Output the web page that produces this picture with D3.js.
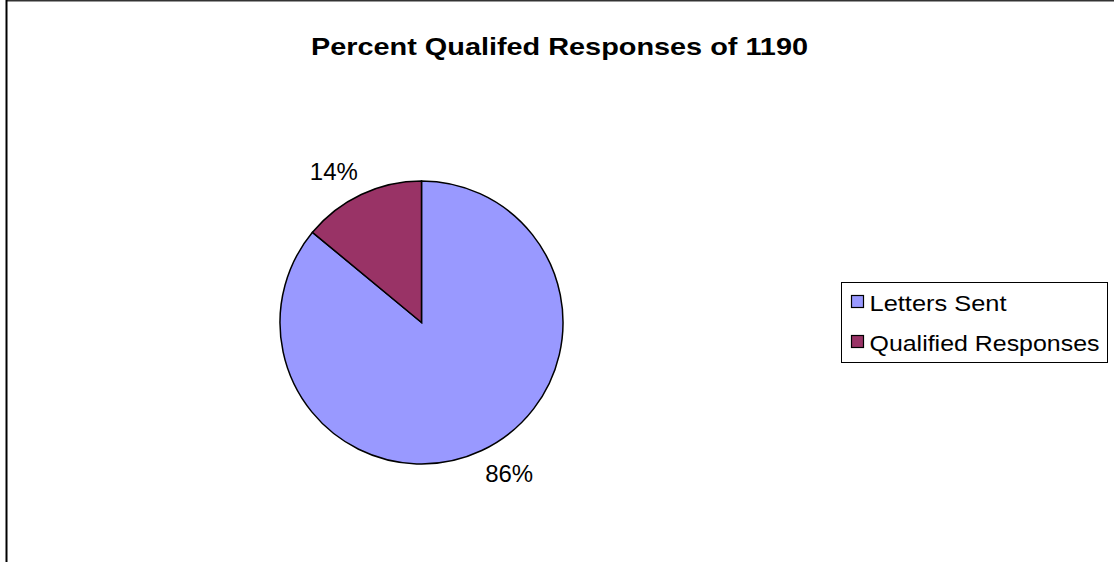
<!DOCTYPE html>
<html><head><meta charset="utf-8">
<script src="https://cdn.jsdelivr.net/npm/d3@7"></script>
<style>body{margin:0;background:#fff}svg{display:block}</style>
</head><body>
<script>
const categories = ["Letters Sent", "Qualified Responses"];
const values = [86, 14];
const labels = ["86%", "14%"];
const colors = ["#9999FF", "#993366"];
const title = "Percent Qualifed Responses of 1190";

const W = 1114, H = 562;
const FONT = "Liberation Sans, Arial, sans-serif";
const svg = d3.select("body").append("svg").attr("width", W).attr("height", H);
svg.append("rect").attr("width", W).attr("height", H).attr("fill", "#fff");
// chart border (right/bottom clipped)
svg.append("line").attr("x1", 6).attr("x2", W).attr("y1", 0.5).attr("y2", 0.5).attr("stroke", "#333").attr("stroke-width", 2);
svg.append("line").attr("x1", 6.5).attr("x2", 6.5).attr("y1", 0).attr("y2", H).attr("stroke", "#000").attr("stroke-width", 2);

svg.append("text").attr("x", 559.5).attr("y", 54.5).attr("text-anchor", "middle")
  .attr("font-family", FONT).attr("font-weight", "bold")
  .attr("font-size", 24.5).attr("textLength", 497).attr("lengthAdjust", "spacingAndGlyphs")
  .text(title);

const cx = 421.5, cy = 322.5, r = 141.5;
const pie = d3.pie().sort(null).value(d => d)(values);
const arc = d3.arc().innerRadius(0).outerRadius(r);
const g = svg.append("g").attr("transform", `translate(${cx},${cy})`);
g.selectAll("path").data(pie).join("path").attr("d", arc)
  .attr("fill", (d, i) => colors[i]).attr("stroke", "#000").attr("stroke-width", 1.5);

const capH = 17;
g.selectAll("text").data(pie).join("text")
  .each(function(d, i) {
    const a = (d.startAngle + d.endAngle) / 2;
    const ux = Math.sin(a), uy = -Math.cos(a);
    const qx = (r + 8) * ux;
    const qy = (r + 8) * uy + uy * 8;
    d3.select(this)
      .attr("x", qx)
      .attr("y", uy > 0 ? qy + capH : qy)
      .attr("text-anchor", ux > 0 ? "start" : "end");
  })
  .attr("font-family", FONT).attr("font-size", 23)
  .attr("textLength", 48).attr("lengthAdjust", "spacingAndGlyphs")
  .text((d, i) => labels[i]);

// legend
const legendLens = [137, 230];
const lg = svg.append("g");
lg.append("rect").attr("x", 841.5).attr("y", 282.5).attr("width", 266).attr("height", 80)
  .attr("fill", "#fff").attr("stroke", "#000").attr("stroke-width", 1);
categories.forEach((c, i) => {
  const y = 311 + i * 40;
  lg.append("rect").attr("x", 851.5).attr("y", y - 15.5).attr("width", 12).attr("height", 12)
    .attr("fill", colors[i]).attr("stroke", "#000").attr("stroke-width", 1.2);
  lg.append("text").attr("x", 869.5).attr("y", y)
    .attr("font-family", FONT).attr("font-size", 22.5)
    .attr("textLength", legendLens[i]).attr("lengthAdjust", "spacingAndGlyphs").text(c);
});
</script>
</body></html>
